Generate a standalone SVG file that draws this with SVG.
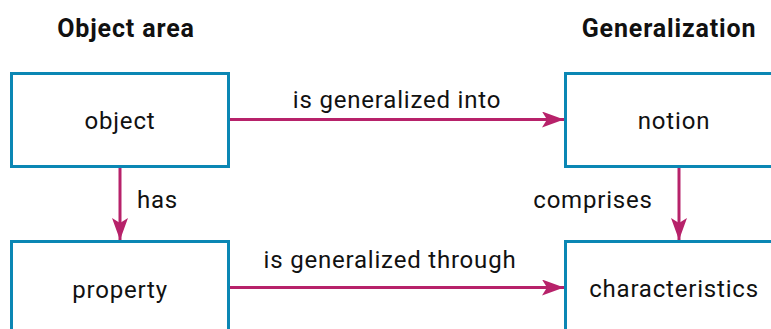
<svg xmlns="http://www.w3.org/2000/svg" width="771" height="329" viewBox="0 0 771 329">
  <style>
    .box { fill: #ffffff; stroke: #0b87b4; stroke-width: 3; }
    .txt { font-family: Roboto, "Liberation Sans", sans-serif; font-size: 24px; letter-spacing: 0.8px; fill: #111111; text-anchor: middle; }
    .title { font-family: Roboto, "Liberation Sans", sans-serif; font-size: 25px; letter-spacing: 0.85px; font-weight: bold; fill: #111111; text-anchor: middle; }
    .edge { stroke: #b7226a; stroke-width: 3; fill: none; }
  </style>
  <defs>
    <marker id="arrow" markerUnits="userSpaceOnUse" markerWidth="22" markerHeight="16" refX="22" refY="8" orient="auto">
      <path d="M0,0 L22,8 L0,16 L5,8 Z" fill="#b7226a"/>
    </marker>
  </defs>
  <rect width="771" height="329" fill="#ffffff"/>

  <!-- column headings -->
  <text class="title" x="126" y="37">Object area</text>
  <text class="title" x="669" y="37">Generalization</text>

  <g id="object">
    <rect class="box" x="11.5" y="73.5" width="217" height="93"/>
    <text class="txt" x="120" y="129">object</text>
  </g>
  <g id="notion">
    <rect class="box" x="565.5" y="73.5" width="218" height="93"/>
    <text class="txt" x="674" y="129">notion</text>
  </g>
  <g id="property">
    <rect class="box" x="11.5" y="241.5" width="217" height="100"/>
    <text class="txt" x="120" y="298">property</text>
  </g>
  <g id="characteristics">
    <rect class="box" x="565.5" y="241.5" width="218" height="100"/>
    <text class="txt" x="674" y="297">characteristics</text>
  </g>

  <g id="connectors">
    <line class="edge" x1="230" y1="119.5" x2="564" y2="119.5" marker-end="url(#arrow)"/>
    <text class="txt" x="397" y="108">is generalized into</text>
    <line class="edge" x1="230" y1="287.5" x2="564" y2="287.5" marker-end="url(#arrow)"/>
    <text class="txt" x="390" y="268">is generalized through</text>
    <line class="edge" x1="120" y1="168" x2="120" y2="240" marker-end="url(#arrow)"/>
    <text class="txt" x="157.5" y="208">has</text>
    <line class="edge" x1="679" y1="168" x2="679" y2="240" marker-end="url(#arrow)"/>
    <text class="txt" x="593" y="208">comprises</text>
  </g>
</svg>
